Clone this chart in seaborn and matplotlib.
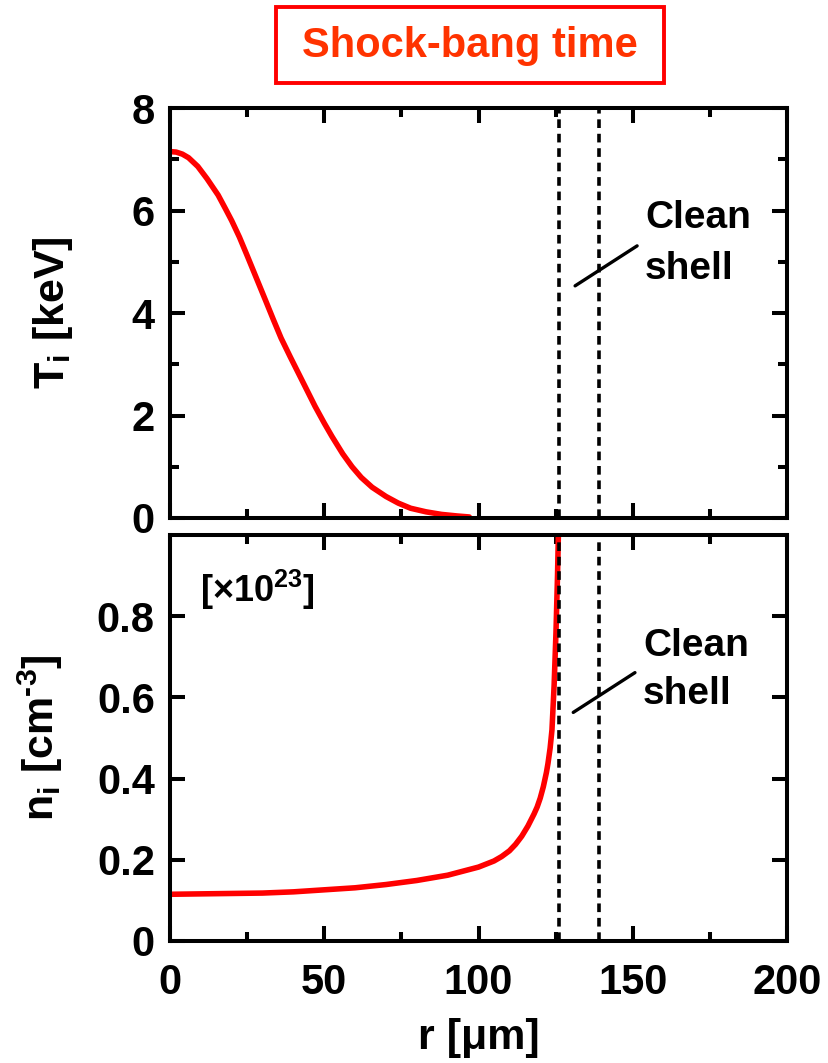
import matplotlib
matplotlib.use("Agg")
import matplotlib.pyplot as plt
from matplotlib.ticker import MultipleLocator
from matplotlib.patches import Rectangle
import seaborn as sns

# Ion temperature profile T_i(r) [keV]
r_T = [0, 2, 4, 6, 9, 12, 15.6, 18, 20, 22.5, 25, 28, 31, 33.5, 36, 39, 41.5,
       44, 47, 50, 52.5, 56, 59, 62, 65.5, 70, 74, 78, 83, 88, 93, 97]
T_i = [7.15, 7.14, 7.10, 7.03, 6.86, 6.62, 6.30, 6.03, 5.80, 5.48, 5.12, 4.68,
       4.24, 3.87, 3.51, 3.14, 2.84, 2.54, 2.18, 1.85, 1.59, 1.25, 1.00, 0.79,
       0.60, 0.42, 0.29, 0.19, 0.12, 0.07, 0.04, 0.02]

# Ion density profile n_i(r) [1e23 cm^-3]
r_n = [0, 10, 20, 30, 40, 50, 60, 70, 80, 90, 100, 105, 107.5, 110, 112, 114,
       116, 118, 119, 120, 121, 122, 122.5, 123.2, 123.8, 124.5, 125.1, 125.6,
       126.1]
n_i = [0.115, 0.116, 0.117, 0.118, 0.121, 0.126, 0.131, 0.139, 0.149, 0.162,
       0.182, 0.197, 0.208, 0.222, 0.238, 0.258, 0.283, 0.313, 0.330, 0.352,
       0.380, 0.415, 0.437, 0.475, 0.520, 0.630, 0.760, 0.900, 1.080]

# Clean-shell boundaries [um]
shell_r = [126, 139]

x_ticks = [0, 50, 100, 150, 200]
x_ticklabels = ["0", "50", "100", "150", "200"]
T_ticks = [0, 2, 4, 6, 8]
T_ticklabels = ["0", "2", "4", "6", "8"]
n_ticks = [0, 0.2, 0.4, 0.6, 0.8]
n_ticklabels = ["0", "0.2", "0.4", "0.6", "0.8"]

sns.set_style("ticks", {"axes.edgecolor": "black", "xtick.color": "black",
                        "ytick.color": "black", "text.color": "black",
                        "axes.labelcolor": "black"})
plt.rcParams["font.family"] = ["Liberation Sans", "DejaVu Sans"]
plt.rcParams["font.weight"] = "bold"
plt.rcParams["mathtext.fontset"] = "custom"
plt.rcParams["mathtext.rm"] = "Liberation Sans:bold"
plt.rcParams["mathtext.it"] = "Liberation Sans:bold"
plt.rcParams["mathtext.bf"] = "Liberation Sans:bold"
plt.rcParams["mathtext.default"] = "rm"

RED = "#FF0000"
FS_TICK = 30
FS_LABEL = 31
SPINE_W = 2.9

fig = plt.figure(figsize=(8.29, 10.63), dpi=100)
ax1 = fig.add_axes([0.2051, 0.5127, 0.7443, 0.3857])
ax2 = fig.add_axes([0.2051, 0.1148, 0.7443, 0.3819])

sns.lineplot(x=r_T, y=T_i, ax=ax1, color=RED, lw=4.0, errorbar=None, zorder=2)
sns.lineplot(x=r_n, y=n_i, ax=ax2, color=RED, lw=4.0, errorbar=None, zorder=2)

for ax in (ax1, ax2):
    for r in shell_r:
        ax.axvline(r, color="black", lw=2.6, ls=(0, (2.4, 1.6)), zorder=3)
    ax.set_xlim(0, 200)
    ax.set_xticks(x_ticks)
    ax.xaxis.set_minor_locator(MultipleLocator(25))
    ax.tick_params(which="both", direction="in", top=True, right=True,
                   width=SPINE_W, labelsize=FS_TICK, colors="black")
    ax.tick_params(which="major", length=10.8)
    ax.tick_params(which="minor", length=6.3)
    ax.tick_params(axis="y", pad=11)
    ax.tick_params(axis="x", pad=16)
    for s in ax.spines.values():
        s.set_linewidth(SPINE_W)
        s.set_color("black")
    ax.set_xlabel("")
    ax.set_ylabel("")

# Upper panel: ion temperature
ax1.set_ylim(0, 8)
ax1.set_yticks(T_ticks)
ax1.set_yticklabels(T_ticklabels)
ax1.yaxis.set_minor_locator(MultipleLocator(1))
ax1.tick_params(labelbottom=False)
ax1.set_ylabel("T$_{i}$ [keV]", fontsize=FS_LABEL, fontweight="bold")
ax1.yaxis.set_label_coords(-0.19, 0.5)
ax1.yaxis.label.set_verticalalignment("center")

ax1.plot([131.3, 151.4], [4.53, 5.31], color="black", lw=2.4, solid_capstyle="round")
ax1.text(154, 5.65, "Clean", fontsize=28, fontweight="bold", va="baseline", ha="left")
ax1.text(154, 4.67, "shell", fontsize=28, fontweight="bold", va="baseline", ha="left")

# Lower panel: ion density
ax2.set_ylim(0, 1.0)
ax2.set_yticks(n_ticks)
ax2.set_yticklabels(n_ticklabels)
ax2.set_xticklabels(x_ticklabels)
ax2.set_ylabel("n$_{i}$ [cm$^{\u20103}$]", fontsize=FS_LABEL, fontweight="bold")
ax2.yaxis.set_label_coords(-0.21, 0.5)
ax2.yaxis.label.set_verticalalignment("center")
ax2.set_xlabel("r [μm]", fontsize=FS_LABEL, fontweight="bold")
ax2.xaxis.set_label_coords(0.5, -0.19)

ax2.plot([130.7, 150.7], [0.563, 0.661], color="black", lw=2.4, solid_capstyle="round")
ax2.text(153.3, 0.702, "Clean", fontsize=28, fontweight="bold", va="baseline", ha="left")
ax2.text(153.3, 0.584, "shell", fontsize=28, fontweight="bold", va="baseline", ha="left")
ax2.text(0.048, 0.835, "[×10$^{23}$]", transform=ax2.transAxes, fontsize=26,
         fontweight="bold", va="baseline", ha="left")

# Title in a framed box
fig.patches.append(Rectangle((276 / 829, 1 - 83 / 1063), 388 / 829, 76 / 1063,
                             transform=fig.transFigure, fill=False,
                             edgecolor=RED, lw=2.8))
fig.text(470 / 829, 1 - 46 / 1063, "Shock-bang time", color="#FF3300",
         fontsize=30, fontweight="bold", ha="center", va="center")

fig.savefig("out.png", dpi=100, facecolor="white")
